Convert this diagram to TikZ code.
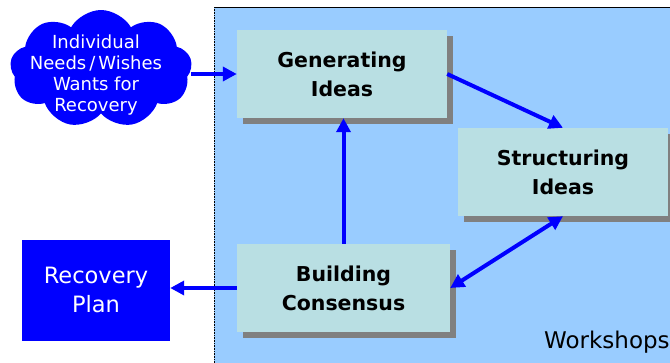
\documentclass[tikz,border=0pt]{standalone}
\usepackage{fontspec}
\setmainfont{DejaVu Sans}
\usetikzlibrary{arrows.meta,shapes.symbols,shadows}
\definecolor{areablue}{HTML}{99CCFF}
\definecolor{boxfill}{HTML}{B9DFE3}
\definecolor{shade}{HTML}{808080}
\definecolor{pureblue}{HTML}{0000FF}
\tikzset{
  stagebox/.style={rectangle, fill=boxfill, minimum width=210pt, minimum height=88pt,
    inner sep=0pt, align=center, font=\fontsize{20.5}{29}\selectfont\bfseries,
    drop shadow={shadow xshift=6pt, shadow yshift=-6pt, fill=shade, opacity=1}},
  arr/.style={draw=pureblue, line width=4pt, -{Triangle[length=14pt,width=14pt]}},
  darr/.style={draw=pureblue, line width=4pt, {Triangle[length=14pt,width=14pt]}-{Triangle[length=14pt,width=14pt]}},
}
\begin{document}
\begin{tikzpicture}[x=1pt, y=-1pt]
\useasboundingbox (0,0) rectangle (670,362);
% workshop area
\fill[areablue] (214,7) rectangle (700,380);
\draw[shade, line width=0.6pt] (214,7) -- (700,7);
\draw[shade, line width=0.6pt, densely dotted] (214,7) -- (214,380);
\node[anchor=base west, inner sep=0pt, font=\fontsize{23}{28}\selectfont] (ws) at (544,348) {Workshops};
% process stages
\node[stagebox] (gen) at (342,74) {Generating\\Ideas};
\node[stagebox] (struc) at (563,172) {Structuring\\Ideas};
\node[stagebox, minimum width=213pt] (build) at (343.5,288) {Building\\Consensus};
% input and output
\node[cloud, cloud puffs=9, cloud puff arc=120, aspect=1.55, fill=pureblue,
  minimum width=182pt, minimum height=118pt, inner sep=0pt] (cloud) at (101,69) {};
\node[text=white, align=center, font=\fontsize{18}{21}\selectfont] (cloudtext) at (96,75)
  {Individual\\Needs\hspace{3pt}/\hspace{3pt}Wishes\\Wants for\\Recovery};
\node[rectangle, fill=pureblue, text=white, minimum width=148pt, minimum height=101pt,
  align=center, font=\fontsize{22.5}{29}\selectfont] (plan) at (96,290) {Recovery\\Plan};
% connectors
\draw[arr] (cloud.east |- gen.west) -- (gen.west);
\draw[arr] (gen.east) -- (struc.north);
\draw[arr] (build.north) -- (build.north |- gen.south);
\draw[darr] (struc.south) -- (build.east);
\draw[arr] (build.west) -- (build.west -| plan.east);
\end{tikzpicture}
\end{document}
